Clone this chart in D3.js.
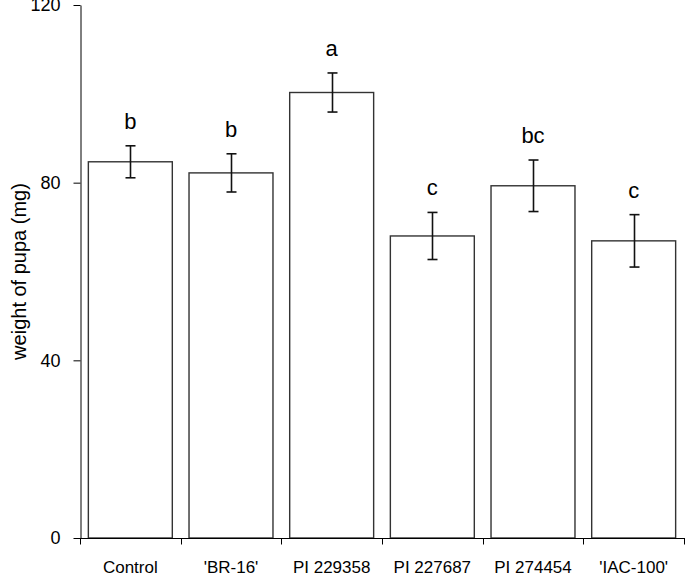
<!DOCTYPE html>
<html>
<head>
<meta charset="utf-8">
<script src="https://cdn.jsdelivr.net/npm/d3@7"></script>
<style>
  html, body { margin: 0; padding: 0; background: #fff; }
  svg { display: block; }
  text { font-family: "Liberation Sans", Arial, sans-serif; fill: #000; }
</style>
</head>
<body>
<script>
const categories = ["Control", "'BR-16'", "PI 229358", "PI 227687", "PI 274454", "'IAC-100'"];
const means = [84.7, 82.2, 100.3, 68.0, 79.3, 66.9];
const errors = [3.6, 4.3, 4.4, 5.3, 5.8, 5.9];
const letters = ["b", "b", "a", "c", "bc", "c"];
const yTicks = [0, 40, 80, 120];
const yLabel = "weight of pupa (mg)";

const W = 685, H = 574;
const mLeft = 80, mRight = 684, mTop = 5, mBottom = 538;

const svg = d3.select("body").append("svg").attr("width", W).attr("height", H);

const y = d3.scaleLinear().domain([0, 120]).range([mBottom, mTop]);
const xCat = d3.scaleBand().domain(categories).range([mLeft, mRight]).padding(0);
const x = d3.scaleBand().domain(categories).range([mLeft, mRight])
  .paddingInner(0.166).paddingOuter(0.083);

// bars
svg.append("g").selectAll("rect").data(categories).join("rect")
  .attr("x", d => x(d))
  .attr("y", (d, i) => y(means[i]))
  .attr("width", x.bandwidth())
  .attr("height", (d, i) => y(0) - y(means[i]))
  .attr("fill", "#fff")
  .attr("stroke", "#333")
  .attr("stroke-width", 1.4);

// error bars
const eg = svg.append("g").attr("stroke", "#111").attr("stroke-width", 1.6).attr("fill", "none");
categories.forEach((d, i) => {
  const cx = Math.round(x(d) + x.bandwidth() / 2) + 0.5;
  const y1 = y(means[i] + errors[i]), y2 = y(means[i] - errors[i]);
  eg.append("line").attr("x1", cx).attr("x2", cx).attr("y1", y1).attr("y2", y2);
  eg.append("line").attr("x1", cx - 5).attr("x2", cx + 5).attr("y1", y1).attr("y2", y1);
  eg.append("line").attr("x1", cx - 5).attr("x2", cx + 5).attr("y1", y2).attr("y2", y2);
});

// significance letters
svg.append("g").selectAll("text").data(categories).join("text")
  .attr("x", d => x(d) + x.bandwidth() / 2)
  .attr("y", (d, i) => y(means[i] + errors[i]) - 17)
  .attr("text-anchor", "middle")
  .attr("font-size", 22)
  .text((d, i) => letters[i]);

// y axis
const yAxis = d3.axisLeft(y).tickValues(yTicks).tickSize(7).tickPadding(13).tickSizeOuter(0);
const yg = svg.append("g").attr("transform", `translate(${mLeft + 0.5},0)`).call(yAxis);
yg.select(".domain").attr("stroke", "#000");
yg.selectAll(".tick line").attr("stroke", "#000");
yg.selectAll(".tick text").attr("font-size", 18).attr("font-family", "Liberation Sans, Arial, sans-serif").attr("fill", "#000");

// x axis: ticks at category boundaries
const xg = svg.append("g").attr("transform", `translate(0,${mBottom + 0.5})`);
xg.append("line").attr("x1", mLeft).attr("x2", mRight + 1).attr("y1", 0).attr("y2", 0).attr("stroke", "#000");
const bounds = categories.map(d => xCat(d)).concat([mRight]);
xg.selectAll("line.tk").data(bounds).join("line").attr("class", "tk")
  .attr("x1", d => Math.round(d) + 0.5).attr("x2", d => Math.round(d) + 0.5)
  .attr("y1", 0).attr("y2", 6).attr("stroke", "#000");
xg.selectAll("text").data(categories).join("text")
  .attr("x", d => xCat(d) + xCat.bandwidth() / 2)
  .attr("y", 34)
  .attr("text-anchor", "middle")
  .attr("font-size", 17)
  .text(d => d);

// y label
svg.append("text")
  .attr("transform", `translate(26,${(y(0) + y(120)) / 2}) rotate(-90)`)
  .attr("text-anchor", "middle")
  .attr("font-size", 20)
  .text(yLabel);
</script>
</body>
</html>
